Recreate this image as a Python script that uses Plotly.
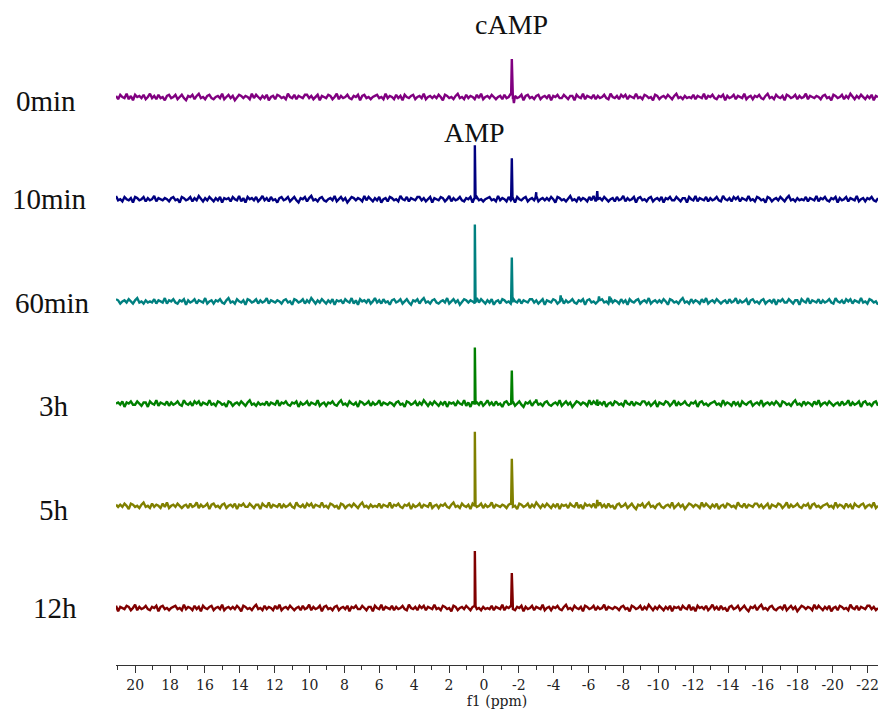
import numpy as np
import plotly.graph_objects as go

# Stacked 31P NMR spectra, top to bottom
labels = ["0min", "10min", "60min", "3h", "5h", "12h"]
colors = ["#800080", "#000080", "#008080", "#008000", "#808000", "#800000"]

# Peak positions (ppm) and heights for AMP and cAMP in each spectrum
amp_ppm = 0.52
camp_ppm = -1.6
amp_height = [0, 54, 77, 56, 74, 57]
camp_height = [38, 41, 44, 33, 47, 35]

# Small extra features (ppm, height) per spectrum
minor_features = [
    [(-1.72, -6)],
    [(-3.0, 7), (-6.5, 8)],
    [(-4.4, 6), (-6.6, 5), (-7.2, 5)],
    [(-3.0, 4), (-6.5, 4)],
    [(-6.5, 6)],
    [],
]

# Baseline noise record (arbitrary units)
noise = [
    1, -2, 2, 0, -1, 3, -2, 1, -3, 2, 0, 1, -1, 2, -2, 0, 3, -1, 1, -2, 2, -1, 0, -3, 1, 2, -1, 0, 2, -2,
    0, 2, -1, -3, 1, 0, 2, -2, 1, 3, -1, 0, -2, 1, 2, -1, -2, 0, 1, -1, 3, -2, 0, 2, -1, 1, -3, 0, 2, 1,
    -1, 1, 0, -2, 3, -1, 2, 0, -2, 1, -1, 2, -3, 0, 1, -2, 2, 1, -1, 0, -2, 3, 0, -1, 2, -2, 1, 0, -1, 2,
    2, -1, 1, -2, 0, 2, -3, 1, 0, -1, 2, 1, -2, 0, 3, -2, 1, -1, 0, 2, -1, -2, 1, 0, 2, -3, 1, 2, -1, 0,
    -2, 0, 1, 2, -1, 0, -2, 3, -1, 1, 0, -2, 2, -1, 1, -3, 2, 0, -1, 1, 2, -2, 0, 1, -1, 3, -2, 0, 1, -1,
    1, -1, 2, 0, -3, 2, 1, -1, 0, -2, 1, 3, -1, 0, -2, 2, -1, 1, 0, -2, 2, -1, 3, -2, 0, 1, -1, 2, 0, -2,
    0, 1, -2, 2, -1, 0, 3, -2, 1, -1, 0, 2, -3, 1, 2, -1, 0, -2, 1, 2, -2, 0, 1, -1, 2, -3, 1, 0, 2, -1,
    -1, 2, 0, -2, 1, 1, -3, 2, 0, -1, 3, -2, 1, 0, -1, 2, -2, 1, -1, 0, 2, -1, -2, 3, 0, -1, 1, -2, 2, 0,
    2, -2, 1, 0, -1, 3, -1, 0, -2, 2, 1, -1, 0, -3, 2, 1, -2, 0, 1, -1, 2, 0, -2, 1, 3, -1, 0, -2, 1, -1,
    0, -1, 2, -2, 1, 0, -1, 3, -2, 1, 0, 2, -1, -2, 1, 0, 2, -3, 1, -1, 0, 2, -2, 1, 0, -1, 3, -2, 0, 1,
    -2, 1, 0, 2, -1, -2, 1, 3, -1, 0, -2, 2, 0, -1, 1, -3, 2, 1, -1, 0, 2, -2, 1, -1, 0, 3, -2, 1, 0, -1,
    1, 0, -2, 1, 2, -1, 0, -3, 2, 1, -1, 0, 2, -2, 1, -1, 3, 0, -2, 1, -1, 2, 0, -2, 1, -1, 2, -3, 1, 0,
]

tick_values = [20, 18, 16, 14, 12, 10, 8, 6, 4, 2, 0, -2, -4, -6, -8, -10, -12, -14, -16, -18, -20, -22]
tick_labels = ["20", "18", "16", "14", "12", "10", "8", "6", "4", "2", "0", "-2", "-4", "-6", "-8",
               "-10", "-12", "-14", "-16", "-18", "-20", "-22"]

SERIF = "Liberation Serif"
TICK_SERIF = "DejaVu Serif"

X_MAX, X_MIN = 21.1, -22.6
W, H = 880, 713
ML, MR, MT, MB = 116, 2, 10, 48
Y_TOP = H - MT - MB           # y axis in screen-pixel-like units
SPACING = 102.2
BOTTOM_OFFSET = 57
NOISE_SCALE = 1.1
LABEL_CENTERS_PX = [46, 49, 53, 54, 54, 55]   # horizontal centres of the row labels
LABEL_SHIFT = [-4, 0, -2, -2, -4, 0]          # small vertical nudges of the row labels

ppm_grid = np.linspace(X_MAX, X_MIN, len(noise))
noise_arr = np.array(noise, dtype=float) * NOISE_SCALE

fig = go.Figure()
n = len(labels)
for i, (name, color) in enumerate(zip(labels, colors)):
    base = BOTTOM_OFFSET + (n - 1 - i) * SPACING
    shifted = np.roll(noise_arr, i * 53)
    xs = list(ppm_grid)
    ys = list(base + shifted)
    feats = [(amp_ppm, amp_height[i]), (camp_ppm, camp_height[i])] + minor_features[i]
    for p, h in feats:
        if h == 0:
            continue
        j = int(np.argmin(np.abs(ppm_grid - p)))
        nb = base + shifted[j] * 0.5
        xs += [p + 0.04, p, p - 0.04]
        ys += [nb, base + h, nb]
    order = np.argsort(-np.array(xs), kind="stable")
    xs = np.array(xs)[order]
    ys = np.array(ys)[order]
    fig.add_trace(go.Scatter(
        x=xs, y=ys, mode="lines", name=name,
        line=dict(color=color, width=2.4), showlegend=False, hoverinfo="skip",
    ))
    fig.add_annotation(
        x=(LABEL_CENTERS_PX[i] - ML) / (W - ML - MR), xref="paper",
        y=base + LABEL_SHIFT[i], yref="y",
        text=name, showarrow=False, xanchor="center", yanchor="middle",
        font=dict(family=SERIF, size=29, color="#111111"),
    )

# Compound labels over the peaks
peak_font = dict(family=SERIF, size=28, color="#111111")
fig.add_annotation(x=camp_ppm, y=H - MB - 24, xref="x", yref="y", text="cAMP",
                   showarrow=False, xanchor="center", yanchor="middle", font=peak_font)
fig.add_annotation(x=amp_ppm, y=H - MB - 132, xref="x", yref="y", text="AMP",
                   showarrow=False, xanchor="center", yanchor="middle", font=peak_font)

fig.update_layout(
    width=W, height=H,
    margin=dict(l=ML, r=MR, t=MT, b=MB),
    paper_bgcolor="white", plot_bgcolor="white",
    xaxis=dict(
        range=[X_MAX, X_MIN],
        tickmode="array", tickvals=tick_values, ticktext=tick_labels,
        showline=True, linecolor="#333333", linewidth=1,
        ticks="outside", ticklen=7, tickcolor="#333333", tickwidth=1,
        minor=dict(tickmode="linear", tick0=0, dtick=1, ticks="outside", ticklen=4,
                   tickcolor="#333333", tickwidth=1),
        showgrid=False, zeroline=False,
        tickfont=dict(family=TICK_SERIF, size=14, color="#222222"),
        title=dict(text="f1 (ppm)", standoff=0, font=dict(family=TICK_SERIF, size=14, color="#222222")),
    ),
    yaxis=dict(range=[0, Y_TOP], visible=False, showgrid=False, zeroline=False),
)

fig.write_html("out.html")
